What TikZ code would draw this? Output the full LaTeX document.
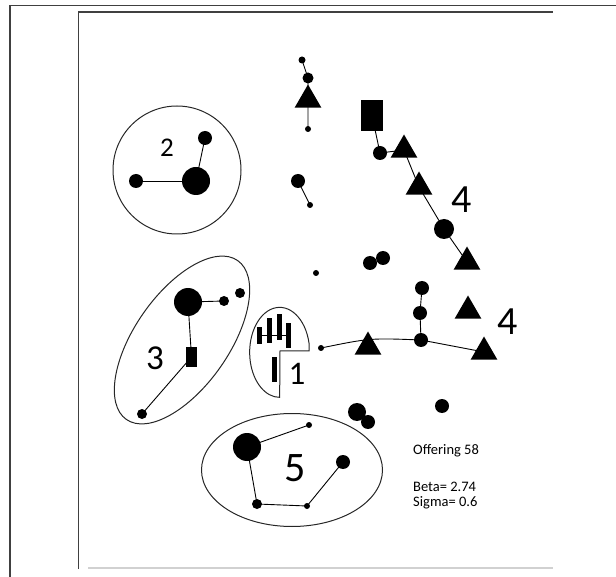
\documentclass[tikz,border=0pt]{standalone}
\usepackage{fontspec}
\setmainfont{Carlito}
\usetikzlibrary{shapes.geometric,backgrounds}
\begin{document}
\begin{tikzpicture}[x=1pt,y=-1pt,
  pdot/.style={circle,fill=black,inner sep=0pt,minimum size=#1},
  ptri/.style={regular polygon,regular polygon sides=3,fill=black,inner sep=0pt,minimum size=31pt},
  pbar/.style={rectangle,fill=black,inner sep=0pt,minimum width=#1},
  plink/.style={line width=0.9pt,draw=black},
  phull/.style={draw=black!85,line width=1pt},
  pframe/.style={draw=black!75,line width=1.5pt},
  plbl/.style={inner sep=0pt,font=\fontsize{#1}{#1}\selectfont},
  ptxt/.style={inner sep=0pt,anchor=west,font=\fontsize{14.5}{16}\selectfont}]
\useasboundingbox (0,0) rectangle (616,577);
% frames
\coordinate (fo1) at (10,577); \coordinate (fo2) at (10,5.5); \coordinate (fo3) at (616,5.5);
\draw[pframe] (fo1) -- (fo2) -- (fo3);
\coordinate (fi1) at (78.5,569); \coordinate (fi2) at (78.5,12); \coordinate (fi3) at (553,12);
\draw[pframe,line width=1.2pt] (fi1) -- (fi2) -- (fi3);
\coordinate (fb1) at (88,568); \coordinate (fb2) at (553,568);
\draw[black!18,line width=2pt] (fb1) -- (fb2);

% cluster 2
\node[circle,draw=black!85,line width=1pt,minimum size=128pt,inner sep=0pt] (c2) at (177,170) {};
\node[pdot=28pt] (a2big) at (196,181) {};
\node[pdot=14pt] (a2top) at (205,138) {};
\node[pdot=14pt] (a2left) at (136,181) {};
\node[plbl=27] (l2) at (167,148) {2};

% top vertical chain
\node[pdot=7pt] (t1) at (302,60) {};
\node[pdot=11pt] (t2) at (308,78) {};
\node[ptri] (t3) at (308,100) {};
\node[pdot=6pt] (t4) at (308,129) {};

% middle pair
\node[pdot=14pt] (m1) at (298,181) {};
\node[pdot=6pt] (m2) at (310,205) {};
\node[pdot=6pt] (lone) at (316,273) {};

% cluster 4 (upper)
\node[pbar=22pt,minimum height=31pt] (r4) at (372,115.5) {};
\node[pdot=14pt] (u1) at (380,153) {};
\node[ptri] (u2) at (404,150) {};
\node[ptri] (u3) at (419,187) {};
\node[pdot=20pt] (u4) at (444,229) {};
\node[ptri] (u5) at (467,262) {};
\node[plbl=40] (l4a) at (462,200) {4};

\node[pdot=14pt] (p1) at (370,263) {};
\node[pdot=14pt] (p2) at (383,258) {};

% cluster 4 (lower)
\node[pdot=14pt] (v1) at (422,288) {};
\node[pdot=14pt] (v2) at (420,313) {};
\node[pdot=14pt] (v3) at (421,340) {};
\node[ptri] (w1) at (468,311) {};
\node[plbl=40] (l4b) at (508,322) {4};
\node[pdot=6pt] (s0) at (321,348) {};
\node[ptri] (ta) at (368,347) {};
\node[ptri] (tb) at (484,352) {};
\coordinate (arcctl) at (370,338);

\node[pdot=18pt] (b1) at (357,412) {};
\node[pdot=14pt] (b2) at (368,422) {};
\node[pdot=14pt] (b3) at (442,406) {};

% cluster 1
\coordinate (k0) at (280,351);
\coordinate (k1) at (309,351);
\coordinate (k2) at (309,343);
\draw[phull] (k0) -- (k1) -- (k2) arc[start angle=12,end angle=270,x radius=30pt,y radius=45pt] -- cycle;
\node[pbar=5pt,minimum height=17pt] (q1) at (259.5,335.5) {};
\node[pbar=5pt,minimum height=25pt] (q2) at (269.5,330.5) {};
\node[pbar=5pt,minimum height=26pt] (q3) at (279,327) {};
\node[pbar=5pt,minimum height=25pt] (q4) at (288.5,335.5) {};
\node[pbar=5pt,minimum height=25pt] (q5) at (274.5,369.5) {};
\node[plbl=33] (l1) at (297,374) {1};

% cluster 3
\draw[phull] (182,340) [rotate around={55:(182,340)}] ellipse (97pt and 47pt);
\node[pdot=28pt] (e1) at (188,302) {};
\node[pdot=10pt] (e2) at (224,301) {};
\node[pdot=10pt] (e3) at (240,293) {};
\node[pbar=11pt,minimum height=20pt] (e4) at (191.5,357) {};
\node[pdot=10pt] (e5) at (142,414) {};
\node[plbl=35] (l3) at (155,358) {3};

% cluster 5
\node[ellipse,draw=black!85,line width=1pt,minimum width=181pt,minimum height=113pt,inner sep=0pt] (c5) at (292,470) {};
\node[pdot=28pt] (f1) at (247,447) {};
\node[pdot=6pt] (f2) at (309,425) {};
\node[pdot=14pt] (f3) at (343,462) {};
\node[pdot=10pt] (f4) at (257,504) {};
\node[pdot=6pt] (f5) at (307,506) {};
\node[plbl=42] (l5) at (295,468) {5};

% text
\node[ptxt] (o1) at (413,451) {Offering 58};
\node[ptxt] (o2) at (413,487) {Beta= 2.74};
\node[ptxt] (o3) at (413,503) {Sigma= 0.6};

\begin{scope}[on background layer]
\draw[plink] (a2big.center) -- (a2left.center);
\draw[plink] (a2big.center) -- (a2top.center);
\draw[plink] (t1.center) -- (t2.center) -- (t3.center) -- (t4.center);
\draw[plink] (m1.center) -- (m2.center);
\draw[plink] (r4.center) -- (u1.center) -- (u2.center) -- (u3.center) -- (u4.center) -- (u5.center);
\draw[plink] (v1.center) -- (v2.center) -- (v3.center);
\draw[plink] (s0.center) .. controls (arcctl) .. (v3.center) -- (tb.center);
\draw[line width=0.8pt] (q1.center) -- (q4.center |- q1.center);
\draw[plink] (e1.center) -- (e2.center);
\draw[plink] (e1.center) -- (e4.center) -- (e5.center);
\draw[plink] (f1.center) -- (f2.center);
\draw[plink] (f1.center) -- (f4.center) -- (f5.center) -- (f3.center);
\end{scope}
\end{tikzpicture}
\end{document}
